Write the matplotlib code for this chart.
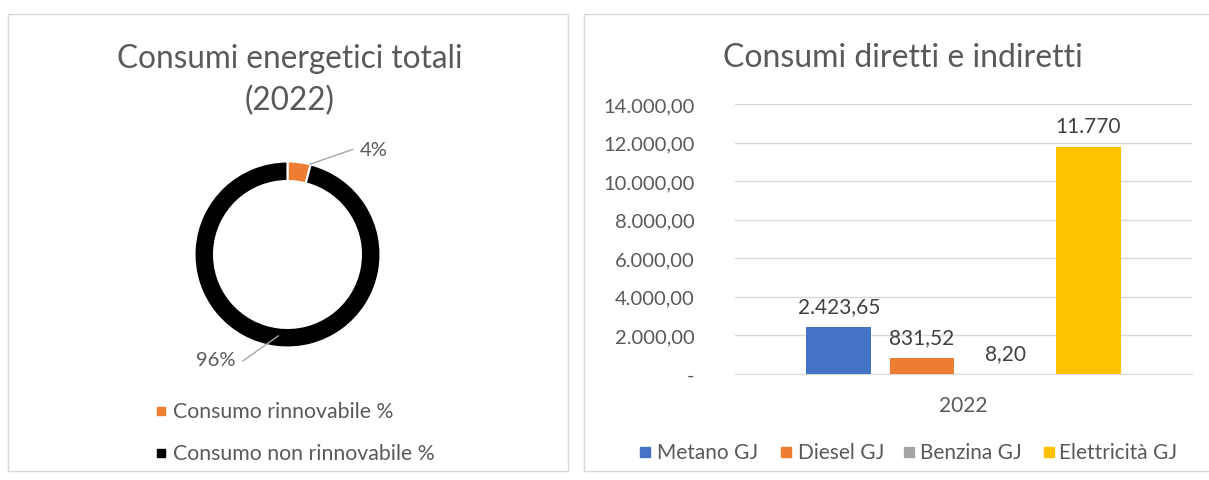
import matplotlib
matplotlib.use("Agg")
import matplotlib.pyplot as plt
from matplotlib.patches import Rectangle

plt.rcParams['font.family'] = ['Lato', 'DejaVu Sans']

# ---- data ----
pie_labels = ["Consumo rinnovabile %", "Consumo non rinnovabile %"]
pie_values = [4, 96]
pie_texts = ["4%", "96%"]
pie_colors = ["#ED7D31", "#000000"]

bar_category = "2022"
bar_series = ["Metano GJ", "Diesel GJ", "Benzina GJ", "Elettricità GJ"]
bar_values = [2423.65, 831.52, 8.20, 11770]
bar_texts = ["2.423,65", "831,52", "8,20", "11.770"]
bar_colors = ["#4472C4", "#ED7D31", "#A5A5A5", "#FFC000"]
y_ticks = [0, 2000, 4000, 6000, 8000, 10000, 12000, 14000]
y_ticklabels = ["-", "2.000,00", "4.000,00", "6.000,00", "8.000,00",
                "10.000,00", "12.000,00", "14.000,00"]

W, H = 1209, 481
fig = plt.figure(figsize=(W / 100, H / 100), dpi=100)
fig.patch.set_facecolor("white")

def fx(px):
    return px / W

def fy(py):
    return 1 - py / H

TXT = "#595959"
LBL = "#404040"

# panel borders
for (x0, y0, x1, y1) in [(8, 15, 568, 472), (584, 15, 1215, 472)]:
    fig.patches.append(Rectangle((fx(x0), fy(y1)), fx(x1 - x0), (y1 - y0) / H,
                                 transform=fig.transFigure, fill=False,
                                 edgecolor="#D9D9D9", linewidth=1.0))

# ---- donut ----
cx, cy, r = 287.5, 255.5, 93
axp = fig.add_axes([fx(cx - r), fy(cy + r), 2 * r / W, 2 * r / H])
wedges, _ = axp.pie(pie_values, colors=pie_colors, startangle=90, counterclock=False,
                    radius=1, wedgeprops=dict(width=0.21, edgecolor="white", linewidth=1.5))
axp.set_xlim(-1, 1)
axp.set_ylim(-1, 1)
axp.set_aspect("auto")
axp.axis("off")
# leader lines and labels (in donut axes units)
axp.plot([0.24, 0.70], [0.97, 1.13], color="#A6A6A6", lw=1.0, clip_on=False)
axp.text(0.78, 1.13, pie_texts[0], fontsize=14.5, color=TXT, ha="left", va="center",
         clip_on=False)
axp.plot([-0.10, -0.48], [-0.876, -1.145], color="#A6A6A6", lw=1.0, clip_on=False)
axp.text(-0.56, -1.13, pie_texts[1], fontsize=14.5, color=TXT, ha="right", va="center",
         clip_on=False)

fig.text(fx(290), fy(59), "Consumi energetici totali", ha="center", va="center",
         fontsize=22.7, color=TXT)
fig.text(fx(290), fy(101), "(2022)", ha="center", va="center", fontsize=22.7, color=TXT)

# left legend
for i, (lab, col) in enumerate(zip(pie_labels, pie_colors)):
    yy = 412 + i * 42
    fig.patches.append(Rectangle((fx(157), fy(yy + 4)), fx(8), 8 / H,
                                 transform=fig.transFigure, color=col))
    fig.text(fx(173), fy(yy), lab, ha="left", va="center", fontsize=15.3, color=TXT)

# ---- bar chart ----
ax_l, ax_r, ax_t, ax_b = 735, 1192, 105, 375
axb = fig.add_axes([fx(ax_l), fy(ax_b), (ax_r - ax_l) / W, (ax_b - ax_t) / H])
n = len(bar_values)
xs = [i - (n - 1) / 2 for i in range(n)]
bars = axb.bar(xs, bar_values, width=0.78, color=bar_colors, zorder=3)
axb.set_xlim(-2.75, 2.75)
axb.set_ylim(0, 14000)
axb.set_yticks(y_ticks)
axb.set_yticklabels(y_ticklabels, fontsize=14.5, color=TXT)
axb.tick_params(axis="y", length=0, pad=29)
axb.set_xticks([0])
axb.set_xticklabels([bar_category], fontsize=15, color=TXT)
axb.tick_params(axis="x", length=0, pad=15)
axb.grid(axis="y", color="#D9D9D9", linewidth=1.0, zorder=0)
for s in axb.spines.values():
    s.set_visible(False)
axb.spines["bottom"].set_visible(True)
axb.spines["bottom"].set_color("#D9D9D9")
for x, v, t in zip(xs, bar_values, bar_texts):
    axb.annotate(t, xy=(x, v), xytext=(0, 8), textcoords="offset points",
                 ha="center", va="bottom", fontsize=15, color=LBL)

fig.text(fx(903), fy(58), "Consumi diretti e indiretti", ha="center", va="center",
         fontsize=23, color=TXT)

# right legend
leg_sq = [640, 781, 904, 1044]
leg_tx = [657, 798, 920, 1059]
for lab, col, sx, tx in zip(bar_series, bar_colors, leg_sq, leg_tx):
    fig.patches.append(Rectangle((fx(sx), fy(453 + 5)), fx(10), 10 / H,
                                 transform=fig.transFigure, color=col))
    fig.text(fx(tx), fy(453), lab, ha="left", va="center", fontsize=15, color=TXT)

fig.savefig("out.png", dpi=100)
